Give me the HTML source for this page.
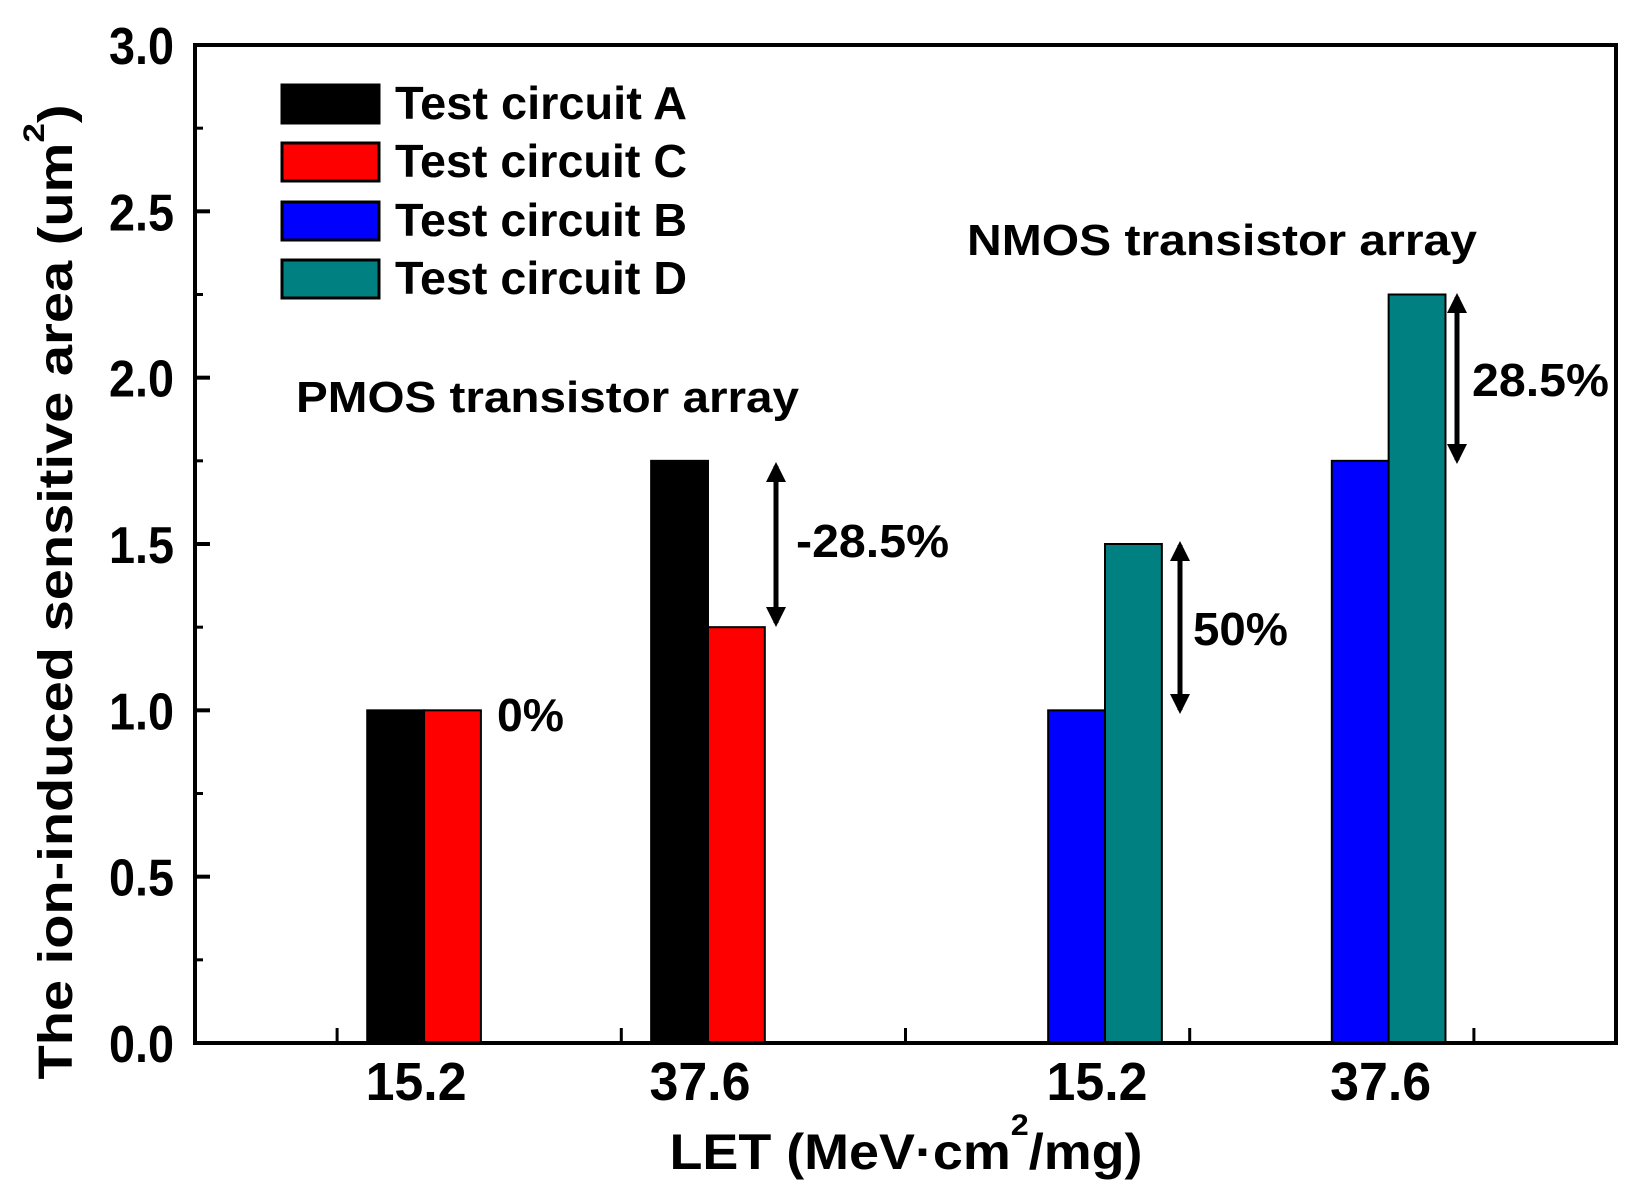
<!DOCTYPE html>
<html><head><meta charset="utf-8"><style>
html,body{margin:0;padding:0;background:#fff;}
svg{display:block;font-family:"Liberation Sans",sans-serif;font-weight:bold;}
</style></head><body>
<svg id="chart" width="1649" height="1199" viewBox="0 0 1649 1199">
<defs><marker id="ah" viewBox="0 0 10 10" refX="8" refY="5" markerWidth="4" markerHeight="4" orient="auto-start-reverse"><path d="M0,0 L10,5 L0,10 z" fill="#000"/></marker></defs>
<g id="bars"></g>
<rect x="195" y="45" width="1421" height="998" fill="none" stroke="#000" stroke-width="4"/>
<g id="axes"></g>
<g>
<rect x="282" y="85" width="97" height="38" fill="#000" stroke="#000" stroke-width="3"/>
<text x="395" y="119" font-size="46" textLength="292" lengthAdjust="spacingAndGlyphs">Test circuit A</text>
<rect x="282" y="143" width="97" height="38" fill="#ff0000" stroke="#000" stroke-width="3"/>
<text x="395" y="177" font-size="46" textLength="292" lengthAdjust="spacingAndGlyphs">Test circuit C</text>
<rect x="282" y="202" width="97" height="38" fill="#0000ff" stroke="#000" stroke-width="3"/>
<text x="395" y="236" font-size="46" textLength="292" lengthAdjust="spacingAndGlyphs">Test circuit B</text>
<rect x="282" y="260" width="97" height="38" fill="#008080" stroke="#000" stroke-width="3"/>
<text x="395" y="294" font-size="46" textLength="292" lengthAdjust="spacingAndGlyphs">Test circuit D</text>
</g>
<text x="296" y="412" font-size="44" textLength="503" lengthAdjust="spacingAndGlyphs">PMOS transistor array</text>
<text x="967" y="255" font-size="44" textLength="510" lengthAdjust="spacingAndGlyphs">NMOS transistor array</text>
<text x="497" y="731" font-size="46" textLength="67" lengthAdjust="spacingAndGlyphs">0%</text>
<text x="796" y="557" font-size="46" textLength="153" lengthAdjust="spacingAndGlyphs">-28.5%</text>
<text x="1193" y="645" font-size="46" textLength="95" lengthAdjust="spacingAndGlyphs">50%</text>
<text x="1472" y="396" font-size="46" textLength="137" lengthAdjust="spacingAndGlyphs">28.5%</text>
<line x1="776" y1="466" x2="776" y2="623" stroke="#000" stroke-width="5" marker-start="url(#ah)" marker-end="url(#ah)"/>
<line x1="1180" y1="545" x2="1180" y2="710" stroke="#000" stroke-width="5" marker-start="url(#ah)" marker-end="url(#ah)"/>
<line x1="1457" y1="297" x2="1457" y2="460" stroke="#000" stroke-width="5" marker-start="url(#ah)" marker-end="url(#ah)"/>
<text x="906" y="1169" font-size="50" text-anchor="middle" textLength="473" lengthAdjust="spacingAndGlyphs">LET (MeV·cm<tspan font-size="30" dy="-34">2</tspan><tspan dy="34">/mg)</tspan></text>
<text transform="translate(72,592) rotate(-90)" font-size="48" text-anchor="middle" textLength="975" lengthAdjust="spacingAndGlyphs">The ion-induced sensitive area (um<tspan font-size="30" dy="-28">2</tspan><tspan dy="28">)</tspan></text>
</svg>
<script>
const categories = ["15.2","37.6","15.2","37.6"];
const catPos = [0.806, 1.805, 3.202, 4.2];
const seriesLeft = [1.0, 1.75, 1.0, 1.75];   // A, A, B, B
const seriesRight = [1.0, 1.25, 1.5, 2.25];  // C, C, D, D
const leftColors = ["#000000","#000000","#0000ff","#0000ff"];
const rightColors = ["#ff0000","#ff0000","#008080","#008080"];
const yTicks = [0,0.5,1.0,1.5,2.0,2.5,3.0];
const yTickLabels = ["0.0","0.5","1.0","1.5","2.0","2.5","3.0"];
const xTicks = [0.5,1.5,2.5,3.5,4.5];
const NS="http://www.w3.org/2000/svg";
const X0=195,X1=1616,Y0=1043,Y1=45;
const xs=v=>X0+v*(X1-X0)/5;
const ys=v=>Y0-v*(Y0-Y1)/3;
const bw=0.2;
const bars=document.getElementById('bars'),axes=document.getElementById('axes');
function mk(tag,attrs,parent){const e=document.createElementNS(NS,tag);for(const k in attrs)e.setAttribute(k,attrs[k]);parent.appendChild(e);return e;}
categories.forEach((c,i)=>{
  const l=mk('rect',{x:xs(catPos[i]-bw),y:ys(seriesLeft[i]),width:xs(bw)-X0,height:Y0-ys(seriesLeft[i]),fill:leftColors[i],stroke:'#000','stroke-width':2},bars);
  
  
  const r=mk('rect',{x:xs(catPos[i]),y:ys(seriesRight[i]),width:xs(bw)-X0,height:Y0-ys(seriesRight[i]),fill:rightColors[i],stroke:'#000','stroke-width':2},bars);
  
  
  const t=mk('text',{x:xs(catPos[i])-8,y:1100,'font-size':54,'text-anchor':'middle',textLength:101,lengthAdjust:'spacingAndGlyphs'},axes);
  t.textContent=c;
  
  
});
yTicks.forEach((v,i)=>{
  const tk=mk('line',{x1:X0,x2:X0+15,y1:ys(v),y2:ys(v),stroke:'#000','stroke-width':4},axes);
  
  
  if(i<yTicks.length-1){
    const m=mk('line',{x1:X0,x2:X0+8,y1:ys(v+0.25),y2:ys(v+0.25),stroke:'#000','stroke-width':3},axes);
    
    
  }
  const t=mk('text',{x:174,y:ys(v)+19,'font-size':52,'text-anchor':'end',textLength:65,lengthAdjust:'spacingAndGlyphs'},axes);
  t.textContent=yTickLabels[i];
  
  
});
xTicks.forEach(v=>{
  const tk=mk('line',{x1:xs(v),x2:xs(v),y1:Y0,y2:Y0-15,stroke:'#000','stroke-width':3},axes);
  
  
});
</script>
</body></html>
